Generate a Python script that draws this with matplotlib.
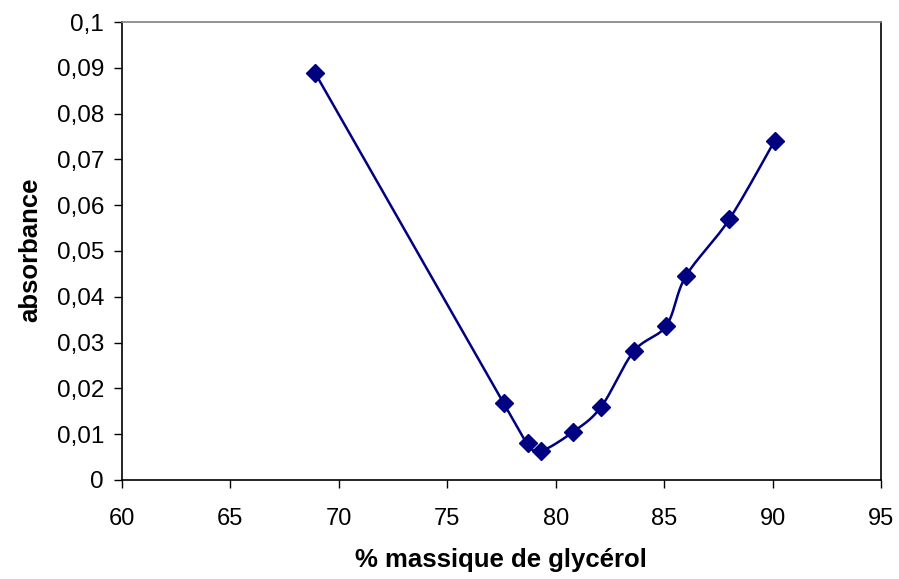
import numpy as np
import matplotlib
matplotlib.use("Agg")
import matplotlib.pyplot as plt
from matplotlib.ticker import FuncFormatter

glycerol = [68.9, 77.6, 78.7, 79.3, 80.8, 82.1, 83.6, 85.1, 86.0, 88.0, 90.1]
absorbance = [0.0889, 0.0168, 0.0080, 0.0063, 0.0105, 0.0160, 0.0281, 0.0337, 0.0445, 0.0569, 0.0741]

x_ticks = [60, 65, 70, 75, 80, 85, 90, 95]
y_ticks = [0, 0.01, 0.02, 0.03, 0.04, 0.05, 0.06, 0.07, 0.08, 0.09, 0.1]

plt.rcParams['font.family'] = ['Liberation Sans', 'DejaVu Sans']

fig = plt.figure(figsize=(8.99, 5.79), dpi=100)
ax = fig.add_axes([122/899, 1-480/579, (881-122)/899, (480-22)/579])

# Excel-like smoothed line (Bezier through points), computed in pixel-scaled space
xs = np.array(glycerol); ys = np.array(absorbance)
sx, sy = 35.0 / 759, 0.1 / 458
P = np.column_stack([xs / sx, ys / sy])
curve = []
n = len(P)
for i in range(n - 1):
    p0 = P[i - 1] if i > 0 else P[i]
    p1 = P[i]
    p2 = P[i + 1]
    p3 = P[i + 2] if i + 2 < n else P[i + 1]
    c1 = p1 + (p2 - p0) / 6.0
    c2 = p2 - (p3 - p1) / 6.0
    t = np.linspace(0, 1, 40)[:, None]
    seg = (1-t)**3 * p1 + 3*(1-t)**2*t*c1 + 3*(1-t)*t**2*c2 + t**3*p2
    curve.append(seg)
curve = np.vstack(curve)
ax.plot(curve[:, 0] * sx, curve[:, 1] * sy, color='#000080', lw=1.8, zorder=2)
ax.plot(glycerol, absorbance, linestyle='none', marker='D', ms=9,
        color='#000080', zorder=3)

ax.set_xlim(60, 95)
ax.set_ylim(0, 0.1)
ax.set_xticks(x_ticks)
ax.set_yticks(y_ticks)
ax.yaxis.set_major_formatter(FuncFormatter(lambda v, p: ('%g' % round(v, 3)).replace('.', ',')))
ax.tick_params(axis='both', direction='out', length=6, width=1, color='black')
ax.tick_params(axis='y', labelsize=17.5, pad=7)
ax.tick_params(axis='x', labelsize=17, pad=14)

for s in ['left', 'bottom', 'right']:
    ax.spines[s].set_color('black')
    ax.spines[s].set_linewidth(1.2)
ax.spines['top'].set_color('#808080')
ax.spines['top'].set_linewidth(1.2)

ax.set_xlabel('% massique de glycérol', fontsize=18.5, fontweight='bold')
ax.set_ylabel('absorbance', fontsize=18.5, fontweight='bold')
ax.xaxis.set_label_coords((501 - 122) / 759, (480 - 560) / 458)
ax.yaxis.set_label_coords((30 - 122) / 759, (480 - 250) / 458)
ax.xaxis.label.set_va('center')
ax.yaxis.label.set_va('center')

fig.savefig('out.png', dpi=100)
